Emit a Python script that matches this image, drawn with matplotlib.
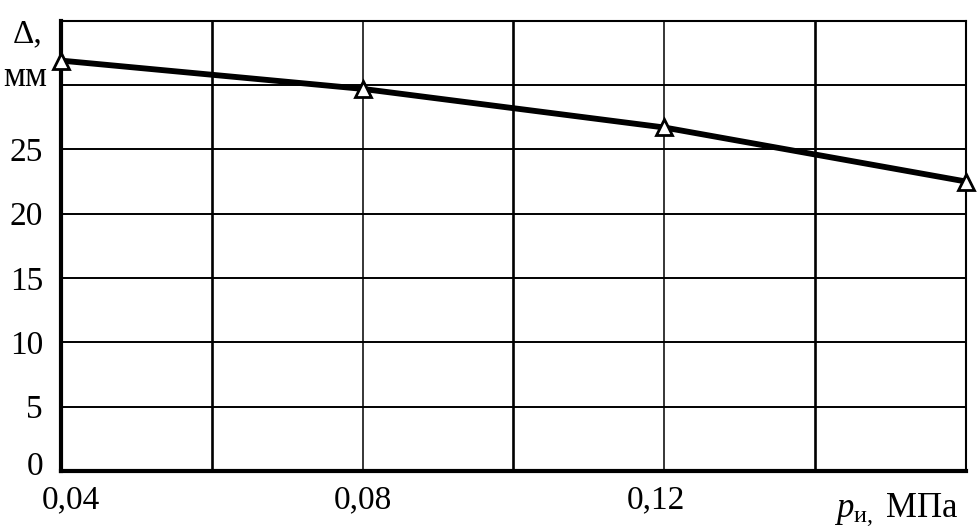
import matplotlib
matplotlib.use("Agg")
import matplotlib.pyplot as plt
import matplotlib.transforms as mtransforms

# Data
pressure = [0.04, 0.08, 0.12, 0.16]
delta = [31.9, 29.7, 26.7, 22.5]

x_major = [0.04, 0.08, 0.12, 0.16]
x_major_labels = ["0,04", "0,08", "0,12", ""]
x_minor = [0.06, 0.10, 0.14]
y_ticks = [0, 5, 10, 15, 20, 25, 30, 35]
y_labels = ["0", "5", "10", "15", "20", "25", "", ""]

plt.rcParams["font.family"] = ["Liberation Serif", "DejaVu Serif"]
plt.rcParams["mathtext.fontset"] = "custom"
plt.rcParams["mathtext.rm"] = "Liberation Serif"
plt.rcParams["mathtext.it"] = "Liberation Serif:italic"

fig = plt.figure(figsize=(9.8, 5.31), dpi=100)
ax = fig.add_axes([0.0622, 0.113, 0.9235, 0.848])

ax.set_xlim(0.04, 0.16)
ax.set_ylim(0, 35)

ax.set_xticks(x_major)
ax.set_xticklabels(x_major_labels)
ax.set_xticks(x_minor, minor=True)
ax.set_yticks(y_ticks)
ax.set_yticklabels(y_labels)

ax.grid(True, which="major", axis="x", color="black", linewidth=1.1)
ax.grid(True, which="minor", axis="x", color="black", linewidth=1.9)
ax.grid(True, which="major", axis="y", color="black", linewidth=1.4)
ax.set_axisbelow(True)

ax.tick_params(axis="both", which="both", length=0, labelsize=24)
ax.tick_params(axis="x", pad=10)
ax.tick_params(axis="y", pad=13)

# shift the "0" y label slightly up, as in the original
lbl0 = ax.get_yticklabels()[0]
lbl0.set_transform(lbl0.get_transform() +
                   mtransforms.ScaledTranslation(0, 8 / 100, fig.dpi_scale_trans))
# shift "0,04" slightly right
lblx = ax.get_xticklabels()[0]
lblx.set_transform(lblx.get_transform() +
                   mtransforms.ScaledTranslation(10 / 100, 0, fig.dpi_scale_trans))
lblx2 = ax.get_xticklabels()[2]
lblx2.set_transform(lblx2.get_transform() +
                    mtransforms.ScaledTranslation(-8 / 100, 0, fig.dpi_scale_trans))

for s in ax.spines.values():
    s.set_linewidth(1.5)
for s in ["left", "bottom"]:
    ax.spines[s].set_linewidth(3.0)

ax.plot(pressure, delta, color="black", linewidth=4.2, marker="^",
        markersize=12, markerfacecolor="white", markeredgecolor="black",
        markeredgewidth=2.0, clip_on=False, zorder=5)

ax.text(-0.020, 34.0, "Δ,", transform=ax.get_yaxis_transform(), ha="right",
        va="center", fontsize=24)
ax.text(-0.015, 30.6, "мм", transform=ax.get_yaxis_transform(), ha="right",
        va="center", fontsize=25)

ax.text(0.992, -0.085, r"$p_{\mathrm{и,}}$ МПа", transform=ax.transAxes,
        ha="right", va="center", fontsize=25)

fig.savefig("out.png", dpi=100)
